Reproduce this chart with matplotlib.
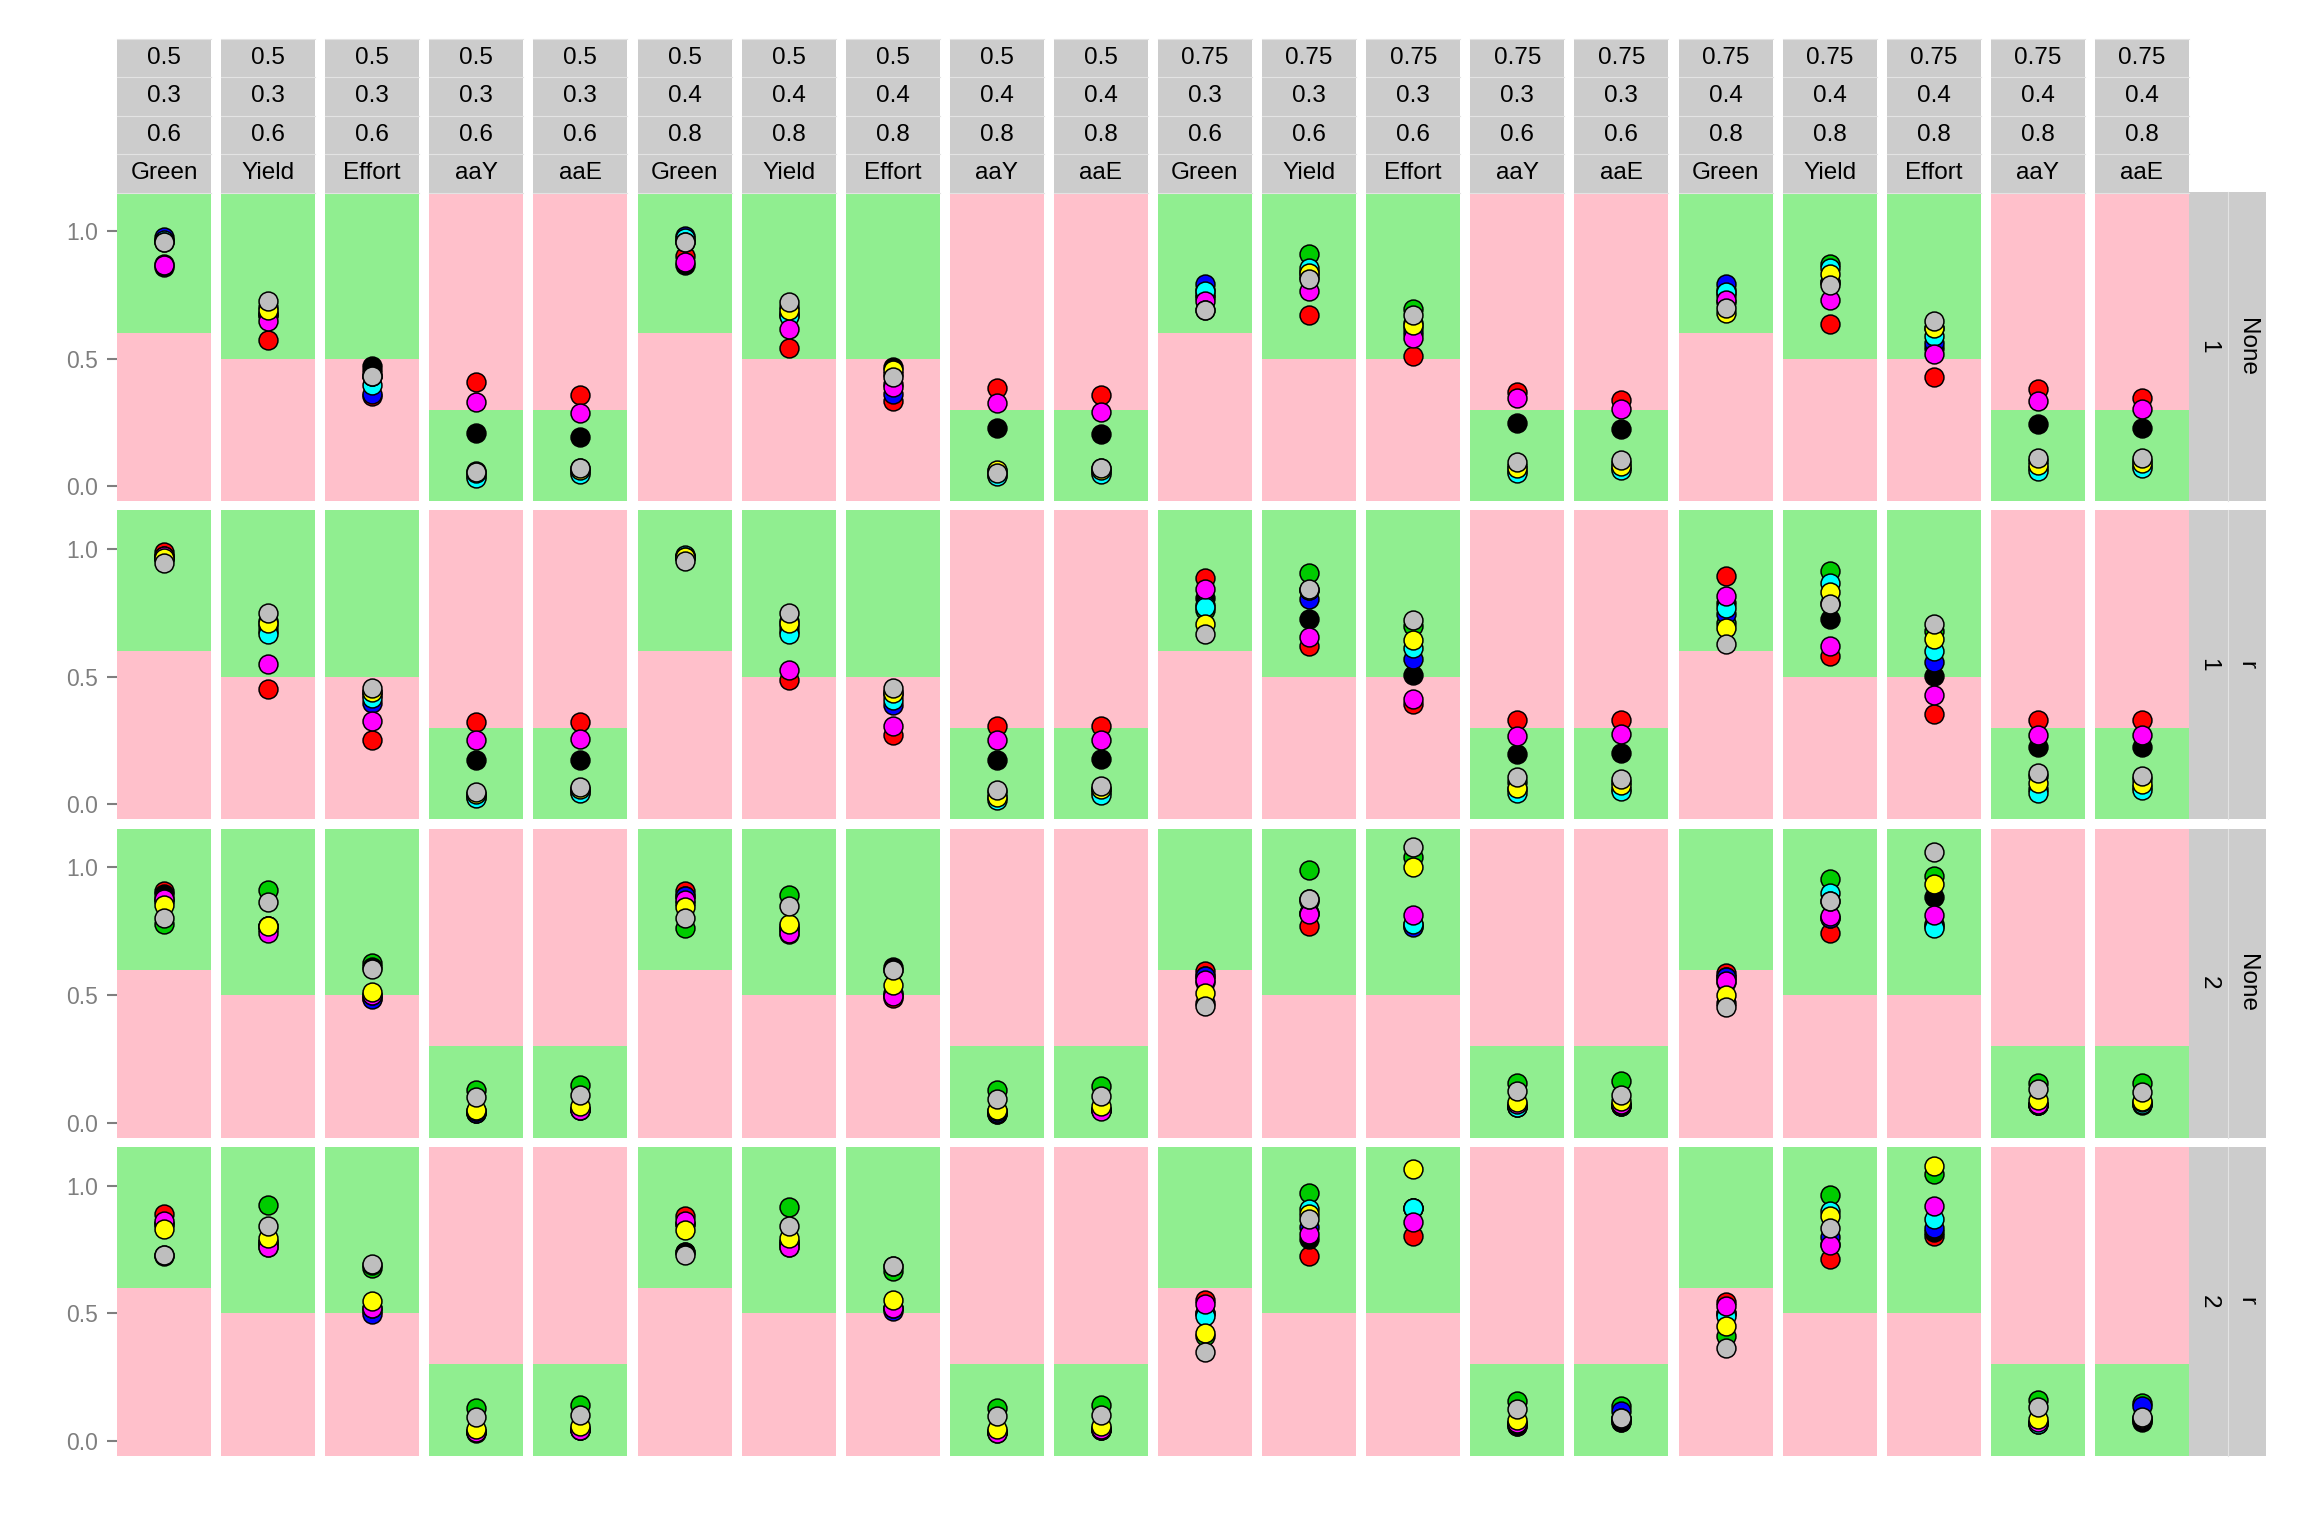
import numpy as np
import matplotlib
matplotlib.use("Agg")
import matplotlib.pyplot as plt
from matplotlib.patches import Rectangle
from matplotlib.lines import Line2D

plt.rcParams['font.family'] = ['Liberation Sans', 'DejaVu Sans']

# ---------------- data ----------------
strip_p1 = ["0.5"] * 10 + ["0.75"] * 10
strip_p2 = ["0.3"] * 5 + ["0.4"] * 5 + ["0.3"] * 5 + ["0.4"] * 5
strip_p3 = ["0.6"] * 5 + ["0.8"] * 5 + ["0.6"] * 5 + ["0.8"] * 5
measures = ["Green", "Yield", "Effort", "aaY", "aaE"] * 4
thresholds = {"Green": 0.6, "Yield": 0.5, "Effort": 0.5, "aaY": 0.3, "aaE": 0.3}
good_above = {"Green": True, "Yield": True, "Effort": True, "aaY": False, "aaE": False}
row_var1 = ["None", "r", "None", "r"]
row_var2 = ["1", "1", "2", "2"]
y_ticks = [0.0, 0.5, 1.0]
y_tick_labels = ["0.0", "0.5", "1.0"]

green_pts = [
    [.96, .70, .45, .06, .07, .96, .70, .44, .06, .07, .74, .911, .695, .08, .09, .72, .872, .62, .10, .10],
    [.96, .72, .44, .04, .06, .965, .72, .44, .05, .06, .76, .905, .70, .09, .09, .71, .916, .68, .11, .10],
    [.78, .913, .625, .127, .149, .762, .893, .60, .127, .146, .47, .991, 1.04, .155, .162, .47, .956, .965, .155, .155],
    [.73, .924, .678, .129, .142, .74, .918, .665, .129, .142, .41, .973, .914, .156, .136, .41, .962, 1.044, .162, .149],
]
red_pts = [
    [.87, .574, .352, .407, .358, .90, .541, .332, .384, .356, .75, .672, .511, .369, .339, .75, .635, .429, .382, .345],
    [.99, .454, .254, .323, .323, .97, .489, .273, .306, .306, .888, .620, .395, .329, .329, .894, .58, .356, .329, .329],
    [.906, .76, .49, .04, .05, .906, .74, .49, .035, .05, .593, .772, .77, .06, .065, .586, .743, .78, .07, .075],
    [.888, .76, .51, .03, .045, .881, .76, .52, .03, .045, .554, .724, .805, .06, .075, .544, .714, .805, .065, .08],
]
black_pts = [
    [.86, .67, .469, .209, .191, .868, .68, .465, .227, .204, .77, .82, .62, .246, .225, .77, .80, .54, .243, .227],
    [.965, .70, .43, .175, .175, .97, .70, .43, .175, .178, .81, .728, .508, .199, .201, .79, .728, .502, .225, .225],
    [.895, .772, .61, .038, .055, .89, .76, .61, .035, .05, .575, .82, .78, .06, .065, .57, .80, .884, .07, .07],
    [.725, .78, .69, .035, .045, .74, .78, .685, .035, .045, .50, .79, .914, .06, .073, .50, .77, .82, .07, .073],
]
blue_pts = [
    [.975, .67, .361, .04, .055, .979, .67, .362, .045, .055, .79, .84, .60, .06, .07, .792, .80, .56, .07, .08],
    [.975, .68, .397, .03, .05, .975, .68, .39, .03, .05, .78, .803, .57, .06, .06, .744, .79, .557, .06, .07],
    [.875, .77, .484, .04, .05, .89, .76, .50, .04, .05, .575, .82, .765, .065, .065, .57, .80, .77, .07, .075],
    [.85, .77, .499, .035, .045, .85, .77, .508, .035, .045, .50, .84, .914, .065, .116, .50, .80, .835, .07, .136],
]
cyan_pts = [
    [.965, .68, .397, .034, .047, .97, .665, .40, .038, .047, .763, .855, .64, .05, .064, .761, .855, .587, .06, .07],
    [.97, .668, .417, .025, .044, .978, .669, .41, .018, .038, .774, .84, .613, .044, .054, .77, .868, .60, .044, .058],
    [.87, .77, .50, .045, .055, .86, .77, .51, .045, .055, .55, .87, .78, .061, .07, .55, .90, .762, .07, .075],
    [.85, .78, .52, .04, .05, .85, .78, .52, .04, .05, .489, .91, .914, .07, .085, .49, .90, .868, .065, .085],
]
magenta_pts = [
    [.868, .646, .43, .328, .285, .878, .616, .39, .324, .29, .724, .763, .58, .345, .303, .73, .728, .519, .335, .302],
    [.975, .552, .325, .254, .258, .97, .525, .306, .254, .254, .842, .655, .414, .269, .276, .818, .62, .43, .273, .273],
    [.877, .743, .50, .045, .051, .873, .743, .495, .045, .048, .56, .817, .812, .075, .075, .557, .808, .812, .075, .08],
    [.861, .761, .52, .034, .044, .861, .761, .52, .031, .047, .535, .809, .858, .07, .085, .528, .766, .92, .075, .085],
]
yellow_pts = [
    [.955, .688, .433, .05, .065, .955, .69, .456, .062, .065, .69, .835, .633, .07, .08, .678, .829, .62, .084, .09],
    [.965, .711, .44, .04, .06, .968, .711, .435, .031, .06, .705, .84, .646, .064, .075, .692, .831, .648, .084, .08],
    [.854, .772, .514, .051, .067, .845, .779, .538, .051, .064, .508, .875, 1.001, .08, .085, .501, .87, .936, .09, .084],
    [.829, .796, .548, .047, .06, .826, .796, .552, .047, .061, .424, .89, 1.064, .084, .09, .451, .881, 1.077, .086, .09],
]
gray_pts = [
    [.957, .727, .433, .055, .071, .956, .722, .427, .052, .073, .688, .812, .669, .094, .103, .698, .787, .646, .110, .112],
    [.946, .750, .456, .047, .068, .953, .75, .456, .058, .071, .669, .842, .722, .107, .099, .63, .787, .705, .125, .112],
    [.802, .863, .602, .10, .108, .802, .85, .599, .093, .103, .456, .877, 1.08, .123, .11, .453, .867, 1.06, .132, .119],
    [.727, .844, .695, .093, .102, .727, .842, .685, .097, .103, .349, .871, None, .125, .09, .365, .835, None, .133, .093],
]

series = [
    ("#00CC00", green_pts),
    ("#FF0000", red_pts),
    ("#000000", black_pts),
    ("#0000FF", blue_pts),
    ("#00FFFF", cyan_pts),
    ("#FF00FF", magenta_pts),
    ("#FFFF00", yellow_pts),
    ("#BEBEBE", gray_pts),
]

# ---------------- layout ----------------
W, H = 2304, 1536
fig = plt.figure(figsize=(W / 100, H / 100), dpi=100)

col_left0, col_pitch, col_w = 117.0, 104.1, 94.0
row_top0, row_pitch, row_h = 192.0, 318.3, 309.0
strip_top, strip_h = 38.5, 38.5
ylim = (-0.058, 1.152)
GOOD, BAD = "#90EE90", "#FFC0CB"
STRIP = "#CCCCCC"
STRIP_LINE = "#E3E3E3"
txt_size = 17.5
tick_size = 16.5


def fig_rect(x0, y0, w, h):
    return [x0 / W, 1 - (y0 + h) / H, w / W, h / H]


ncols = len(measures)
nrows = len(row_var1)

for i in range(nrows):
    top = row_top0 + i * row_pitch
    for j in range(ncols):
        left = col_left0 + j * col_pitch
        ax = fig.add_axes(fig_rect(left, top, col_w, row_h))
        ax.set_xlim(-1, 1)
        ax.set_ylim(*ylim)
        m = measures[j]
        thr = thresholds[m]
        up, dn = (GOOD, BAD) if good_above[m] else (BAD, GOOD)
        ax.axhspan(thr, ylim[1], color=up, lw=0, zorder=0)
        ax.axhspan(ylim[0], thr, color=dn, lw=0, zorder=0)
        for color, arr in series:
            v = arr[i][j]
            if v is None:
                continue
            ax.scatter([0], [v], s=185, c=color, edgecolors="black",
                       linewidths=1.1, zorder=3)
        for s in ax.spines.values():
            s.set_visible(False)
        ax.set_xticks([])
        if j == 0:
            ax.set_yticks(y_ticks)
            ax.set_yticklabels(y_tick_labels)
            ax.tick_params(axis="y", colors="#7F7F7F", length=7.5, width=1.5,
                           pad=6, labelsize=tick_size, labelcolor="#7F7F7F")
        else:
            ax.set_yticks([])

# top strips
for j in range(ncols):
    left = col_left0 + j * col_pitch
    labels = [strip_p1[j], strip_p2[j], strip_p3[j], measures[j]]
    for k, lab in enumerate(labels):
        y0 = strip_top + k * strip_h
        fig.add_artist(Rectangle((left / W, 1 - (y0 + strip_h) / H), col_w / W, strip_h / H,
                                 transform=fig.transFigure, facecolor=STRIP, edgecolor="none"))
        fig.text((left + col_w / 2) / W, 1 - (y0 + strip_h / 2) / H, lab,
                 ha="center", va="center", fontsize=txt_size, color="black")
    for k in range(5):
        yy = 1 - (strip_top + k * strip_h) / H
        fig.add_artist(Line2D([left / W, (left + col_w) / W], [yy, yy],
                              transform=fig.transFigure, color=STRIP_LINE, lw=0.8))

# right strips
rs_x0, rs_w = 2189.0, 38.5
for i in range(nrows):
    top = row_top0 + i * row_pitch
    for k, lab in enumerate([row_var2[i], row_var1[i]]):
        x0 = rs_x0 + k * rs_w
        fig.add_artist(Rectangle((x0 / W, 1 - (top + row_h) / H), rs_w / W, row_h / H,
                                 transform=fig.transFigure, facecolor=STRIP, edgecolor="none"))
        fig.text((x0 + rs_w / 2) / W, 1 - (top + row_h / 2) / H, lab, rotation=-90,
                 ha="center", va="center", fontsize=txt_size, color="black")
    xx = (rs_x0 + rs_w) / W
    fig.add_artist(Line2D([xx, xx], [1 - (top + row_h) / H, 1 - top / H],
                          transform=fig.transFigure, color=STRIP_LINE, lw=0.8))

fig.savefig("out.png", dpi=100, facecolor="white")
